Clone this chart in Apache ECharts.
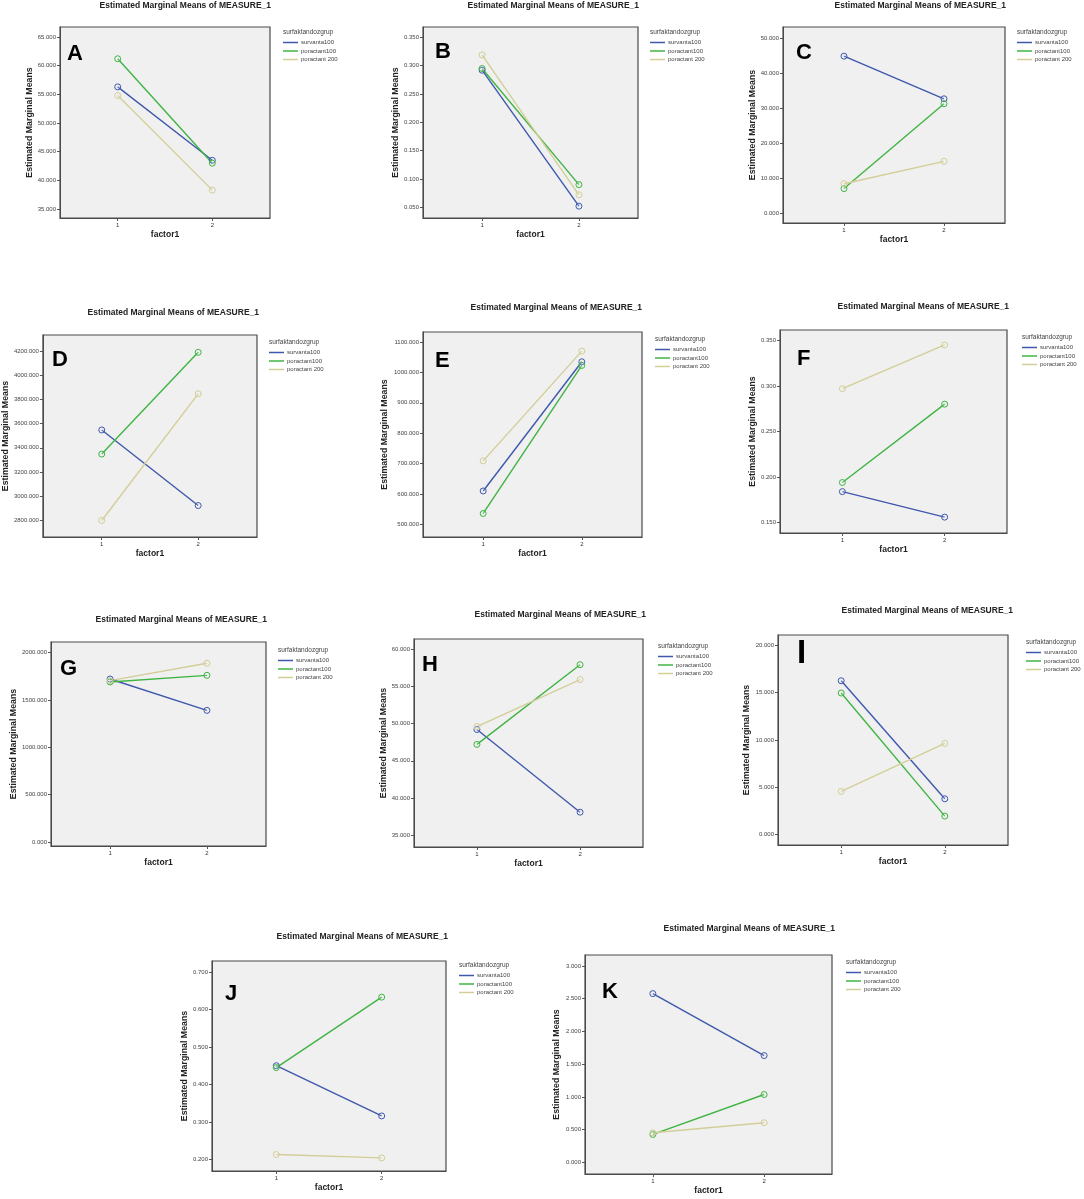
<!DOCTYPE html>
<html>
<head>
<meta charset="utf-8">
<script src="https://cdn.jsdelivr.net/npm/echarts@6/dist/echarts.min.js"></script>
<style>
  html, body { margin: 0; padding: 0; background: #fff; }
  #chart { width: 1084px; height: 1199px; }
</style>
</head>
<body>
<div id="chart"></div>
<script>
// --- data ---
const panelLetters = ["A", "B", "C", "D", "E", "F", "G", "H", "I", "J", "K"];
const factorLevels = [1, 2];
const groupNames = ["survanta100", "poractant100", "poractant 200"];

// one [factor1 = 1, factor1 = 2] pair per panel
const survanta100 = [
	[56.3, 43.5], [0.292, 0.052], [45.0, 32.8], [3548, 2921], [610, 1035], [0.184, 0.156],
	[1721, 1390], [49.2, 38.1], [16.26, 3.77], [0.450, 0.316], [2.578, 1.632]
];
const poractant100 = [
	[61.2, 43.0], [0.295, 0.090], [7.1, 31.4], [3348, 4192], [536, 1023], [0.194, 0.280],
	[1690, 1760], [47.2, 57.9], [14.96, 1.94], [0.445, 0.633], [0.427, 1.037]
];
const poractant200 = [
	[54.8, 38.3], [0.319, 0.072], [8.5, 14.9], [2797, 3848], [709, 1070], [0.297, 0.345],
	[1704, 1887], [49.6, 55.9], [4.55, 9.63], [0.213, 0.204], [0.453, 0.606]
];

const yTicks = [
	[35, 40, 45, 50, 55, 60, 65],
	[0.05, 0.10, 0.15, 0.20, 0.25, 0.30, 0.35],
	[0, 10, 20, 30, 40, 50],
	[2800, 3000, 3200, 3400, 3600, 3800, 4000, 4200],
	[500, 600, 700, 800, 900, 1000, 1100],
	[0.15, 0.20, 0.25, 0.30, 0.35],
	[0, 500, 1000, 1500, 2000],
	[35, 40, 45, 50, 55, 60],
	[0, 5, 10, 15, 20],
	[0.2, 0.3, 0.4, 0.5, 0.6, 0.7],
	[0, 0.5, 1.0, 1.5, 2.0, 2.5, 3.0]
];

// --- layout (pixels) ---
const W = 1084;
// plot box: left, top, width, height
const boxes = [
	[60, 27, 210, 191], [423, 27, 215, 191], [783, 27, 222, 196],
	[41, 335, 216, 202], [423, 332, 219, 205], [780, 330, 227, 203],
	[51, 642, 215, 204], [414, 639, 229, 208], [778, 635, 230, 210],
	[212, 961, 234, 210], [585, 955, 247, 219]
];
// space above top tick / below bottom tick, as fraction of tick span
const yPads = [
	[0.058, 0.052], [0.061, 0.063], [0.067, 0.055], [0.097, 0.1], [0.055, 0.069], [0.057, 0.057],
	[0.056, 0.021], [0.054, 0.063], [0.055, 0.056], [0.059, 0.062], [0.056, 0.059]
];
const titleCenterY = [6, 6, 6, 313, 308, 307, 620, 615, 611, 937, 929];
const titleRightX = [271, 639, 1006, 259, 642, 1009, 267, 646, 1013, 448, 835];
const letterPos = [
	[68, 47], [436, 45], [797, 46], [53, 353], [436, 354], [798, 352],
	[61, 662], [423, 658], [798, 644], [226, 987], [603, 985]
];
const legendPos = [
	[283, 33], [650, 33], [1017, 33], [269, 343], [655, 340], [1022, 338],
	[278, 651], [658, 647], [1026, 643], [459, 966], [846, 963]
];
const yNameGap = [24, 21, 26, 31, 34, 23, 32, 26, 27, 23, 24];

const colors = ["#3e58ac", "#3fb443", "#d3ce97"];
const groupData = [survanta100, poractant100, poractant200];

const chart = echarts.init(document.getElementById("chart"));

const grids = [];
const xAxes = [];
const yAxes = [];
const series = [];
const titles = [];
const legends = [];

panelLetters.forEach((letter, i) => {
	const [l, t, w, h] = boxes[i];
	const ticks = yTicks[i];
	const lo = ticks[0];
	const hi = ticks[ticks.length - 1];
	const span = hi - lo;

	grids.push({
		left: l, top: t, width: w, height: h,
		show: true,
		backgroundColor: "#f0f0f0",
		borderColor: "#4a4a4a",
		borderWidth: 1.2
	});

	xAxes.push({
		gridIndex: i,
		type: "value",
		min: 0.39,
		max: 2.61,
		name: "factor1",
		nameLocation: "middle",
		nameGap: 12,
		nameTextStyle: { fontSize: 8.5, fontWeight: "bold", color: "#222", fontFamily: "Liberation Sans" },
		axisLine: { show: true, onZero: false, lineStyle: { color: "#4a4a4a" } },
		axisTick: { show: true, customValues: factorLevels, length: 3, lineStyle: { color: "#555" } },
		axisLabel: { customValues: factorLevels, fontSize: 6, color: "#333", margin: 4, fontFamily: "Liberation Sans" },
		splitLine: { show: false }
	});

	yAxes.push({
		gridIndex: i,
		type: "value",
		min: lo - span * yPads[i][1],
		max: hi + span * yPads[i][0],
		name: "Estimated Marginal Means",
		nameLocation: "middle",
		nameGap: yNameGap[i],
		nameTextStyle: { fontSize: 8.8, fontWeight: "bold", color: "#222", fontFamily: "Liberation Sans" },
		axisLine: { show: true, onZero: false, lineStyle: { color: "#4a4a4a" } },
		axisTick: { show: true, customValues: ticks, length: 3, lineStyle: { color: "#555" } },
		axisLabel: {
			customValues: ticks,
			fontSize: 6,
			color: "#444",
			margin: 4,
			fontFamily: "Liberation Sans",
			formatter: v => Number(v).toFixed(3)
		},
		splitLine: { show: false }
	});

	groupNames.forEach((name, g) => {
		series.push({
			name,
			type: "line",
			xAxisIndex: i,
			yAxisIndex: i,
			data: factorLevels.map((f, k) => [f, groupData[g][i][k]]),
			symbol: "circle",
			symbolSize: 6,
			itemStyle: { color: "rgba(240,240,240,0.2)", borderColor: colors[g], borderWidth: 1 },
			lineStyle: { color: colors[g], width: 1.4 },
			emphasis: { disabled: true },
			animation: false
		});
	});

	// panel title
	titles.push({
		text: "Estimated Marginal Means of MEASURE_1",
		right: W - titleRightX[i],
		top: titleCenterY[i] - 5,
		padding: 0,
		textStyle: { fontSize: 8.5, fontWeight: "bold", color: "#222", fontFamily: "Liberation Sans" }
	});
	// panel letter
	titles.push({
		text: letter,
		left: letterPos[i][0] - 1,
		top: letterPos[i][1] - (letter === "I" ? 7 : 4),
		padding: 0,
		textStyle: {
			fontSize: letter === "I" ? 33 : 22,
			fontWeight: "bold",
			color: "#000",
			fontFamily: "Liberation Sans"
		}
	});
	// legend heading
	titles.push({
		text: "surfaktandozgrup",
		left: legendPos[i][0],
		top: legendPos[i][1] - 4,
		padding: 0,
		textStyle: { fontSize: 6.5, fontWeight: "normal", color: "#444", fontFamily: "Liberation Sans" }
	});

	legends.push({
		orient: "vertical",
		left: legendPos[i][0],
		top: legendPos[i][1] + 6,
		padding: 0,
		itemGap: 1.5,
		itemWidth: 15,
		itemHeight: 1.5,
		icon: "rect",
		selectedMode: false,
		textStyle: { fontSize: 6, color: "#444", padding: [0, 0, 0, -2], lineHeight: 7, fontFamily: "Liberation Sans" },
		data: groupNames.map((name, g) => ({ name, itemStyle: { color: colors[g], borderWidth: 0 } }))
	});
});

chart.setOption({
	animation: false,
	backgroundColor: "#fff",
	title: titles,
	legend: legends,
	grid: grids,
	xAxis: xAxes,
	yAxis: yAxes,
	series
});
</script>
</body>
</html>
